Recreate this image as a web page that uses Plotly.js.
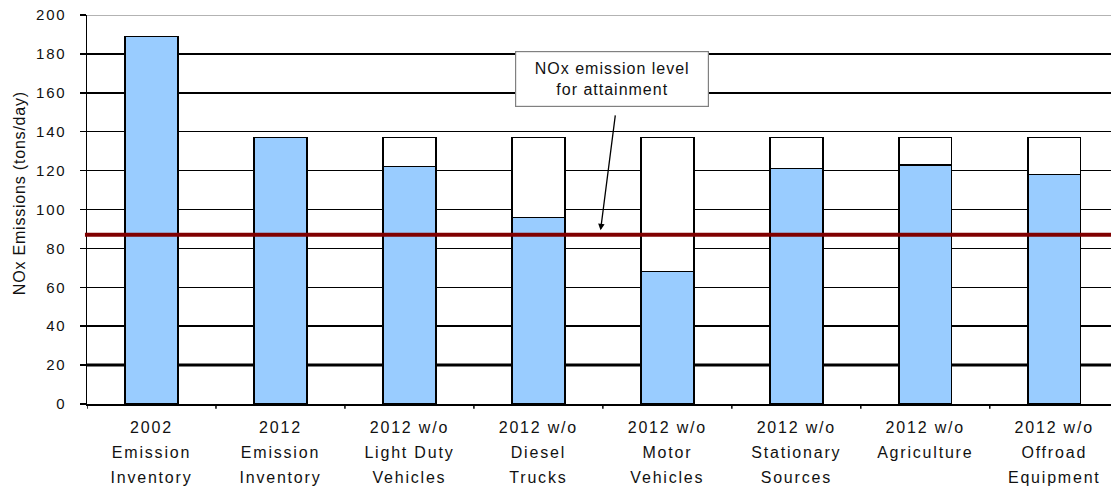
<!DOCTYPE html>
<html>
<head>
<meta charset="utf-8">
<script src="https://cdn.plot.ly/plotly-3.0.1.min.js"></script>
<style>
  html, body { margin: 0; padding: 0; background: #fff; }
  #chart { width: 1111px; height: 489px; }
  .xtick text { letter-spacing: 1.8px; }
  .ytick text { letter-spacing: 1.8px; }
  text.annotation-text { letter-spacing: 1px; }
  .annotation.ytitle-ann text.annotation-text { letter-spacing: 0.8px; }
</style>
</head>
<body>
<div id="chart"></div>
<script>
// ---- data ----
const categories = [
  "2002<br>Emission<br>Inventory",
  "2012<br>Emission<br>Inventory",
  "2012 w/o<br>Light Duty<br>Vehicles",
  "2012 w/o<br>Diesel<br>Trucks",
  "2012 w/o<br>Motor<br>Vehicles",
  "2012 w/o<br>Stationary<br>Sources",
  "2012 w/o<br>Agriculture",
  "2012 w/o<br>Offroad<br>Equipment"
];
const emissions = [189, 137, 122, 96, 68, 121, 123, 118];     // blue bars (tons/day)
const scenarioTotal = [189, 137, 137, 137, 137, 137, 137, 137]; // 2012 inventory level
const attainmentLevel = 87;
const yTicks = [0, 20, 40, 60, 80, 100, 120, 140, 160, 180, 200];
const yTitle = "NOx Emissions (tons/day)";
const noteText = "NOx emission level<br>for attainment";

const removed = scenarioTotal.map((t, i) => t - emissions[i]);
const xIdx = categories.map((_, i) => i);

const FONT = "Liberation Sans, Arial, sans-serif";

const traces = [
  {
    type: "bar",
    x: xIdx,
    y: emissions,
    marker: { color: "#99CCFF", line: { color: "#000000", width: 1.5 } },
    hoverinfo: "y"
  },
  {
    type: "bar",
    x: xIdx,
    y: removed,
    marker: { color: "#FFFFFF", line: { color: "#000000", width: 1.5 } },
    hoverinfo: "y"
  }
];

const layout = {
  width: 1111,
  height: 489,
  margin: { l: 87, r: 0, t: 15, b: 85 },
  paper_bgcolor: "#ffffff",
  plot_bgcolor: "#ffffff",
  barmode: "stack",
  bargap: 0.59,
  showlegend: false,
  font: { family: FONT, color: "#111111" },
  xaxis: {
    type: "linear",
    range: [-0.5, 7.44],
    tickmode: "array",
    tickvals: xIdx,
    ticktext: categories,
    ticks: "",
    showgrid: false,
    zeroline: false,
    showline: true,
    linecolor: "#000000",
    linewidth: 1.5,
    tickfont: { family: FONT, size: 16, color: "#111111" },
    ticklabelstandoff: 8
  },
  yaxis: {
    range: [0, 200],
    tickmode: "array",
    tickvals: yTicks,
    ticks: "outside",
    ticklen: 6,
    tickwidth: 1.5,
    tickcolor: "#000000",
    showgrid: true,
    gridcolor: "#000000",
    gridwidth: 1.5,
    zeroline: false,
    showline: true,
    linecolor: "#000000",
    linewidth: 1.5,
    tickfont: { family: FONT, size: 15, color: "#111111" },
    ticklabelstandoff: 10
  },
  shapes: [
    // x-axis ticks on category boundaries
    ...xIdx.map(i => ({
      type: "line", xref: "x", yref: "paper",
      x0: i - 0.5, x1: i - 0.5, y0: 0, y1: -0.012,
      line: { color: "#000000", width: 1.5 }
    })),
    { type: "line", xref: "paper", yref: "y", x0: 0, x1: 1, y0: 20, y1: 20,
      line: { color: "#000000", width: 3 }, layer: "below" },
    { type: "line", xref: "paper", yref: "y", x0: 0, x1: 1, y0: 200, y1: 200,
      line: { color: "#9a9a9a", width: 1.5 }, layer: "above" },
    { type: "line", xref: "paper", yref: "y", x0: -0.002, x1: 1, y0: attainmentLevel, y1: attainmentLevel,
      line: { color: "#800000", width: 4 }, layer: "above" }
  ],
  annotations: [
    {
      name: "ytitle",
      xref: "paper", yref: "paper", x: -0.0654, y: 0.541,
      xanchor: "center", yanchor: "middle",
      text: yTitle,
      textangle: -90,
      showarrow: false,
      font: { family: FONT, size: 16, color: "#111111" }
    },
    {
      xref: "x", yref: "y", x: 3.57, y: 167,
      text: noteText,
      showarrow: false,
      font: { family: FONT, size: 16, color: "#111111" },
      bgcolor: "#ffffff",
      bordercolor: "#808080",
      borderwidth: 1.2,
      borderpad: 1,
      width: 190,
      height: 52,
      align: "center",
      valign: "middle"
    },
    {
      xref: "x", yref: "y", x: 3.482, y: 89.3,
      text: " ",
      font: { size: 1 },
      showarrow: true,
      arrowhead: 2,
      arrowsize: 1,
      arrowwidth: 1.3,
      arrowcolor: "#000000",
      ax: 15, ay: -117
    }
  ]
};

Plotly.newPlot("chart", traces, layout, { staticPlot: true, displayModeBar: false }).then(() => {
  // widen the line spacing of the three-line category labels to match the reference
  document.querySelectorAll(".xtick text tspan.line").forEach(t => {
    const dy = t.getAttribute("dy");
    if (dy && dy.endsWith("em")) {
      const v = parseFloat(dy);
      if (!isNaN(v)) t.setAttribute("dy", (v * 1.2) + "em");
    }
  });
  const first = document.querySelector(".annotation text.annotation-text");
  if (first) first.style.letterSpacing = "0.8px";
});
</script>
</body>
</html>
